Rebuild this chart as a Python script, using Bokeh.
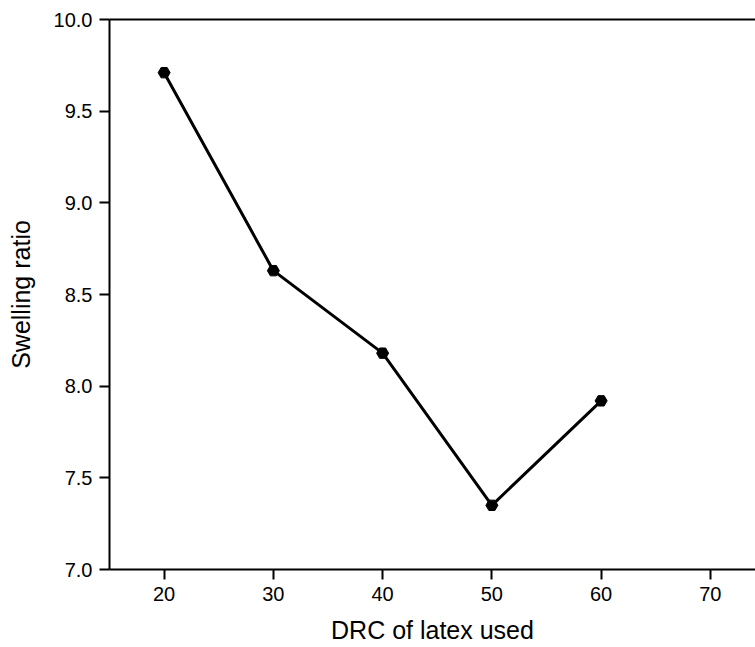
from bokeh.plotting import figure
from bokeh.models import Range1d, LinearAxis, FixedTicker, CustomJSTickFormatter
from bokeh.embed import file_html
from bokeh.resources import INLINE

# Swelling ratio against dry rubber content of the latex
drc = [20, 30, 40, 50, 60]
swelling_ratio = [9.71, 8.63, 8.18, 7.35, 7.92]

x_ticks = [20, 30, 40, 50, 60, 70]
y_ticks = [7.0, 7.5, 8.0, 8.5, 9.0, 9.5, 10.0]

FONT = "Liberation Sans"

p = figure(
    width=755, height=647,
    output_backend="svg", toolbar_location=None,
    x_range=Range1d(15, 74.13), y_range=Range1d(7.0, 10.0),
    min_border_left=109, min_border_right=0,
    min_border_top=19, min_border_bottom=78,
)
p.outline_line_color = None
p.grid.visible = False
p.background_fill_color = "white"
p.border_fill_color = "white"

# data line with hexagonal markers
p.line(drc, swelling_ratio, line_color="black", line_width=3)
p.scatter(drc, swelling_ratio, marker="hex", size=12,
          fill_color="black", line_color="black")

for ax, ticks, title, standoff in (
    (p.xaxis[0], x_ticks, "DRC of latex used", 12),
    (p.yaxis[0], y_ticks, "Swelling ratio", 16),
):
    ax.ticker = FixedTicker(ticks=ticks)
    ax.minor_tick_line_color = None
    ax.major_tick_in = 0
    ax.major_tick_out = 10
    ax.axis_line_width = 2
    ax.major_tick_line_width = 2
    ax.axis_line_color = "black"
    ax.major_tick_line_color = "black"
    ax.major_label_text_font = FONT
    ax.major_label_text_font_size = "20px"
    ax.major_label_text_color = "black"
    ax.major_label_standoff = 7
    ax.axis_label = title
    ax.axis_label_text_font = FONT
    ax.axis_label_text_font_size = "25px"
    ax.axis_label_text_font_style = "normal"
    ax.axis_label_text_color = "black"
    ax.axis_label_standoff = standoff

p.yaxis[0].formatter = CustomJSTickFormatter(code="return tick.toFixed(1);")

# top frame line
top = LinearAxis(ticker=FixedTicker(ticks=[]), major_label_text_font_size="0px",
                 axis_line_width=2, axis_line_color="black",
                 major_tick_line_color=None, minor_tick_line_color=None)
p.add_layout(top, "above")

open("out.html", "w").write(file_html(p, INLINE))
